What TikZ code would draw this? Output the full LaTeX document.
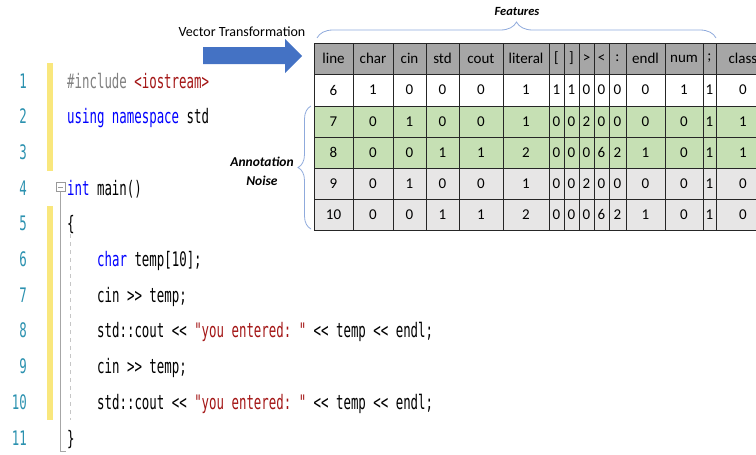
\documentclass[tikz,border=0pt]{standalone}
\usepackage{fontspec}
\setmainfont{Carlito}
\newfontfamily\codefont[FakeStretch=0.62]{DejaVu Sans Mono}
\usetikzlibrary{decorations.pathreplacing}

\definecolor{lnum}{HTML}{2B91AF}
\definecolor{kw}{HTML}{0000FF}
\definecolor{strc}{HTML}{A31515}
\definecolor{prep}{HTML}{808080}
\definecolor{barY}{HTML}{F9E77D}
\definecolor{arrowblue}{HTML}{4472C4}
\definecolor{hdr}{HTML}{A6A6A6}
\definecolor{grn}{HTML}{C6E0B4}
\definecolor{lgray}{HTML}{E7E6E6}
\definecolor{bracec}{HTML}{8FAADC}
\definecolor{gridc}{HTML}{262626}

\def\colx{{314,353,393,426,459,503,549,564,579,594,609,626,665,703,716,770}}
\def\rowy{{43,74,106,137,168,199,230}}

\newcommand\tablerow[3]{%
  \foreach \v [count=\i] in {#3} {
    \pgfmathsetmacro\xl{\colx[\i-1]}
    \pgfmathsetmacro\xr{\colx[\i]}
    \pgfmathsetmacro\yt{\rowy[#1]}
    \pgfmathsetmacro\yb{\rowy[#1+1]}
    \node[cell, fill=#2, minimum width={(\xr-\xl)*1pt}, minimum height={(\yb-\yt)*1pt}]
      (cell-#1-\i) at ({(\xl+\xr)/2},{(\yt+\yb)/2}) {\v};
  }%
}

\begin{document}
\begin{tikzpicture}
    [
        x=1pt, y=-1pt,
        cell/.style={draw=gridc, line width=0.9pt, inner sep=0pt,
            font=\fontsize{15}{18}\selectfont},
        code/.style={anchor=base west, inner sep=0pt,
            font=\codefont\fontsize{20}{24}\selectfont\frenchspacing},
        linenum/.style={anchor=base east, inner sep=0pt, text=lnum,
            font=\codefont\fontsize{20}{24}\selectfont},
        note/.style={font=\bfseries\itshape\fontsize{13.5}{19}\selectfont, align=center},
        featbrace/.style={draw=bracec, line width=0.8pt,
            decorate, decoration={brace, amplitude=#1}},
        fold/.style={draw=gray!80, line width=0.6pt, minimum size=9pt, inner sep=0pt},
        foldline/.style={draw=gray!70, line width=0.8pt},
        guide/.style={draw=gray!45, line width=0.6pt, dash pattern=on 4pt off 4pt},
    ]
    \useasboundingbox (0,0) rectangle (756,455);
    \clip (0,0) rectangle (756,455);

    \fill[barY] (47,63) rectangle (53,171);
    \fill[barY] (47,206) rectangle (53,420);

    \foreach \n in {1,...,11}
        \node[linenum] (num\n) at (27,{88+(\n-1)*35.7}) {\n};

    \node[fold] (fold) at (60.5,187) {};
    \draw[gray!80, line width=0.8pt] ([xshift=-2.5pt]fold.center) -- ([xshift=2.5pt]fold.center);
    \coordinate (foldend) at (60.5,451);
    \draw[foldline] (fold.south) -- (foldend) -- ++(5,0);
    \coordinate (guidetop) at (70,234);
    \coordinate (guidebot) at (70,420);
    \draw[guide] (guidetop) -- (guidebot);

    \node[code] (code1) at (67,88) {{\color{prep}\#include} {\color{strc}<iostream>}};
    \node[code] (code2) at (67,123.7) {{\color{kw}using namespace} std};
    \node[code] (code4) at (67,195.1) {{\color{kw}int} main()};
    \node[code] (code5) at (67,230.8) {\{};
    \node[code] (code6) at (97,266.5) {{\color{kw}char} temp[10];};
    \node[code] (code7) at (97,302.2) {cin >> temp;};
    \node[code] (code8) at (97,337.9) {std::cout << {\color{strc}"you entered: "} << temp << endl;};
    \node[code] (code9) at (97,373.6) {cin >> temp;};
    \node[code] (code10) at (97,409.3) {std::cout << {\color{strc}"you entered: "} << temp << endl;};
    \node[code] (code11) at (67,445) {\}};

    \fill[arrowblue] (203,47) -- (285,47) -- (285,39) -- (302,56) -- (285,73) -- (285,64) -- (203,64) -- cycle;
    \node[font=\fontsize{14}{16}\selectfont] (vector) at (242,32) {Vector Transformation};

    \tablerow{0}{hdr}{line,char,cin,std,cout,literal,{[},{]},>,<,:,endl,num,{;},class}
    \tablerow{1}{white}{6,1,0,0,0,1,1,1,0,0,0,0,1,1,0}
    \tablerow{2}{grn}{7,0,1,0,0,1,0,0,2,0,0,0,0,1,1}
    \tablerow{3}{grn}{8,0,0,1,1,2,0,0,0,6,2,1,0,1,1}
    \tablerow{4}{lgray}{9,0,1,0,0,1,0,0,2,0,0,0,0,1,0}
    \tablerow{5}{lgray}{10,0,0,1,1,2,0,0,0,6,2,1,0,1,0}

    \coordinate (featL) at (317,38);
    \coordinate (featR) at (716,38);
    \draw[featbrace=16pt] (featL) -- (featR);
    \node[note, font=\bfseries\itshape\fontsize{12.5}{14}\selectfont] (features) at (517,11) {Features};

    \coordinate (noiseB) at (311,229);
    \coordinate (noiseT) at (311,106);
    \draw[featbrace=13pt] (noiseB) -- (noiseT);
    \node[note] (noise) at (262,171) {Annotation\\Noise};
\end{tikzpicture}
\end{document}
